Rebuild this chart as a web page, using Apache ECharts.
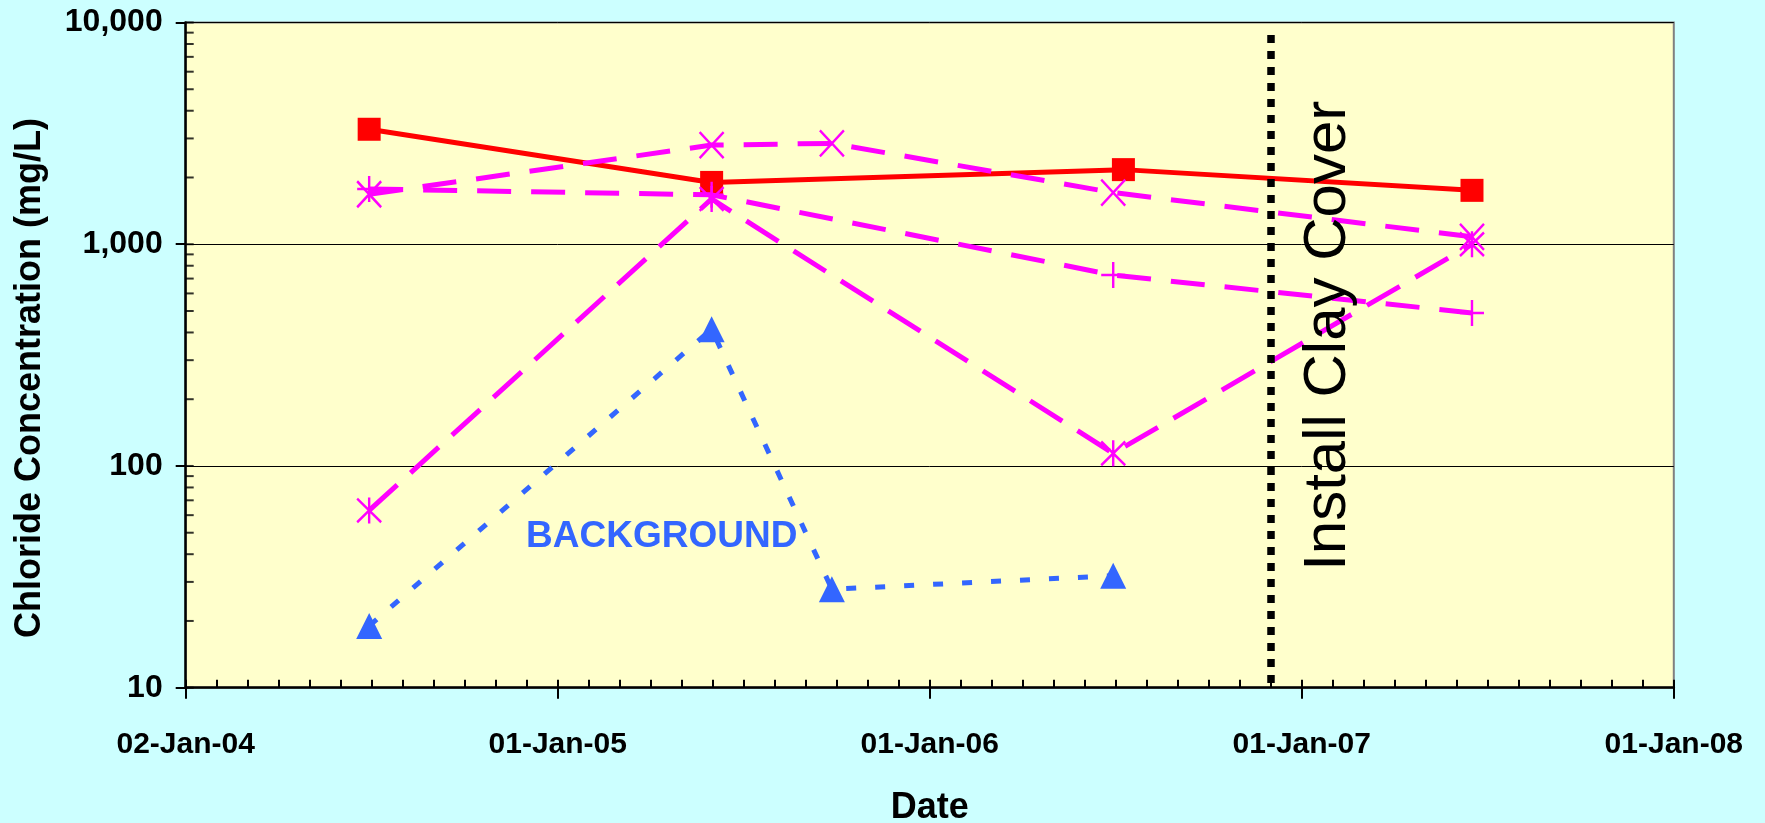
<!DOCTYPE html>
<html>
<head>
<meta charset="utf-8">
<title>Chloride Concentration</title>
<script src="https://cdn.jsdelivr.net/npm/echarts@6/dist/echarts.min.js"></script>
<style>
  html, body { margin: 0; padding: 0; background: #CCFFFF; }
  #chart { width: 1765px; height: 823px; }
</style>
</head>
<body>
<div id="chart"></div>
<script>
// ---- data ----
const axisStart = '2004-01-02';
const axisEnd = '2008-01-01';
const xTickLabels = ['02-Jan-04', '01-Jan-05', '01-Jan-06', '01-Jan-07', '01-Jan-08'];
const yTickLabels = ['10', '100', '1,000', '10,000'];

// red well (squares, solid line)
const redDates = ['2004-06-30', '2005-06-01', '2006-07-10', '2007-06-17'];
const redValues = [3300, 1900, 2170, 1750];

// magenta wells
const crossDates = ['2004-06-30', '2005-06-01', '2005-09-27', '2006-06-30', '2007-06-17'];
const crossValues = [1680, 2800, 2850, 1710, 1080];

const plusDates = ['2004-06-30', '2005-06-01', '2006-06-30', '2007-06-17'];
const plusValues = [1775, 1670, 726, 490];

const starDates = ['2004-06-30', '2005-06-01', '2006-06-30', '2007-06-17'];
const starValues = [63, 1600, 114, 1000];

// background well (triangles, dotted line)
const bgDates = ['2004-06-30', '2005-06-01', '2005-09-27', '2006-06-30'];
const bgValues = [19, 414, 27.8, 32];

// annotations
const coverDate = '2006-12-02';
const coverSpan = [10.5, 9100];
const coverLabel = 'Install Clay Cover';
const bgLabel = 'BACKGROUND';
const bgLabelAt = ['2005-04-13', 48];

// ---- helpers ----
const DAY_MS = 86400000;
function utc(s) {
  const p = s.split('-').map(Number);
  return Date.UTC(p[0], p[1] - 1, p[2]);
}
// days counted from the first axis date, so yearly ticks sit on multiples of 365
function toDay(s) { return (utc(s) - utc(axisStart)) / DAY_MS; }
function pts(dates, vals) { return dates.map((d, i) => [toDay(d), vals[i]]); }

const xMax = toDay(axisEnd);
const YEAR = 365;

// inside tick marks on the log axis: 1..9 x each decade
const yInsideTicks = [];
for (let e = 1; e <= 4; e++) {
  for (let k = 1; k <= 9; k++) {
    const v = k * Math.pow(10, e);
    if (v <= 10000) yInsideTicks.push([0, v]);
  }
}

const FONT = "'Liberation Sans', Arial, sans-serif";
const MAGENTA = '#FF00FF';
const SYM_X = 'path://M0,0L10,10M10,0L0,10';
const SYM_PLUS = 'path://M5,0L5,10M0,5L10,5';
const SYM_STAR = 'path://M5,-0.5L5,10.5M0,0L10,10M10,0L0,10';

const chart = echarts.init(document.getElementById('chart'), null, { renderer: 'canvas' });

function magentaSeries(data, symbol, dash) {
  return {
    type: 'line',
    data: data,
    symbol: symbol,
    symbolSize: [24, 26],
    showAllSymbol: true,
    lineStyle: { color: MAGENTA, width: 5, type: dash, cap: 'butt' },
    itemStyle: { color: 'rgba(0,0,0,0)', borderColor: MAGENTA, borderWidth: 2.5 },
    emphasis: { disabled: true },
    silent: true,
    z: 3
  };
}

const option = {
  animation: false,
  backgroundColor: '#CCFFFF',
  textStyle: { fontFamily: FONT },
  grid: {
    left: 185.7, right: 91.2, top: 22.5, bottom: 135.3,
    outerBoundsMode: 'none',
    containLabel: false,
    show: true, backgroundColor: '#FFFFCC', borderColor: '#808080', borderWidth: 2
  },
  xAxis: [
    {
      type: 'value', min: 0, max: xMax, interval: YEAR,
      name: 'Date', nameLocation: 'middle', nameGap: 102,
      nameTextStyle: { fontSize: 36, fontWeight: 'bold', color: '#000', fontFamily: FONT },
      axisLine: { show: true, lineStyle: { color: '#000', width: 2.5 } },
      axisTick: { show: true, inside: false, length: 11, lineStyle: { color: '#000', width: 2 } },
      axisLabel: {
        show: true, margin: 42, fontSize: 30, fontWeight: 'bold', color: '#000', fontFamily: FONT,
        formatter: v => xTickLabels[Math.round(v / YEAR)] || ''
      },
      splitLine: { show: false }
    },
    {
      type: 'value', min: 0, max: xMax, interval: YEAR,
      position: 'bottom',
      axisLine: { show: false },
      axisTick: { show: true, inside: true, length: 8, lineStyle: { color: '#000', width: 2 } },
      minorTick: { show: true, splitNumber: 12, length: 8, lineStyle: { color: '#000', width: 2 } },
      axisLabel: { show: false },
      splitLine: { show: false }
    }
  ],
  yAxis: {
    type: 'log', logBase: 10, min: 10, max: 10000,
    name: 'Chloride Concentration (mg/L)', nameLocation: 'middle', nameGap: 138,
    nameTextStyle: {
      fontSize: 36, fontWeight: 'bold', color: '#000', fontFamily: FONT,
      padding: [0, 46, 0, 0]
    },
    axisLine: { show: true, lineStyle: { color: '#000', width: 2.5 } },
    axisTick: { show: true, inside: false, length: 10, lineStyle: { color: '#000', width: 2 } },
    axisLabel: {
      show: true, margin: 23, fontSize: 32, fontWeight: 'bold', color: '#000', fontFamily: FONT,
      formatter: v => yTickLabels[Math.round(Math.log10(v)) - 1] || ''
    },
    splitLine: { show: true, lineStyle: { color: '#000', width: 1 } }
  },
  series: [
    {
      type: 'line',
      data: pts(redDates, redValues),
      symbol: 'rect', symbolSize: 23, showAllSymbol: true,
      lineStyle: { color: '#FF0000', width: 5 },
      itemStyle: { color: '#FF0000' },
      emphasis: { disabled: true },
      silent: true,
      z: 2,
      markLine: {
        silent: true,
        symbol: 'none',
        animation: false,
        lineStyle: { color: '#000', width: 7.5, type: [8, 8], cap: 'butt' },
        label: {
          show: true, position: 'insideMiddleBottom', distance: 27,
          formatter: coverLabel, fontSize: 60, color: '#000', fontFamily: FONT,
          padding: [0, 0, 0, 43]
        },
        emphasis: { disabled: true },
        data: [[{ coord: [toDay(coverDate), coverSpan[0]] }, { coord: [toDay(coverDate), coverSpan[1]] }]]
      }
    },
    magentaSeries(pts(crossDates, crossValues), SYM_X, [34, 20]),
    magentaSeries(pts(plusDates, plusValues), SYM_PLUS, [34, 20]),
    magentaSeries(pts(starDates, starValues), SYM_STAR, [38, 18]),
    {
      type: 'line',
      data: pts(bgDates, bgValues),
      symbol: 'triangle', symbolSize: 26, showAllSymbol: true,
      lineStyle: { color: '#3366FF', width: 5, type: [10, 19], cap: 'butt' },
      itemStyle: { color: '#3366FF' },
      emphasis: { disabled: true },
      silent: true,
      z: 4,
      markPoint: {
        silent: true,
        symbol: 'circle', symbolSize: 1,
        itemStyle: { color: 'rgba(0,0,0,0)' },
        label: {
          show: true, position: 'inside', formatter: bgLabel,
          fontSize: 37, fontWeight: 'bold', color: '#3366FF', fontFamily: FONT
        },
        data: [{ coord: [toDay(bgLabelAt[0]), bgLabelAt[1]] }]
      }
    },
    {
      // inside tick marks along the value axis
      type: 'scatter',
      data: yInsideTicks,
      symbol: 'rect', symbolSize: [8, 2], symbolOffset: [4, 0],
      itemStyle: { color: '#000' },
      clip: false,
      silent: true,
      z: 6
    }
  ]
};

chart.setOption(option);
</script>
</body>
</html>
